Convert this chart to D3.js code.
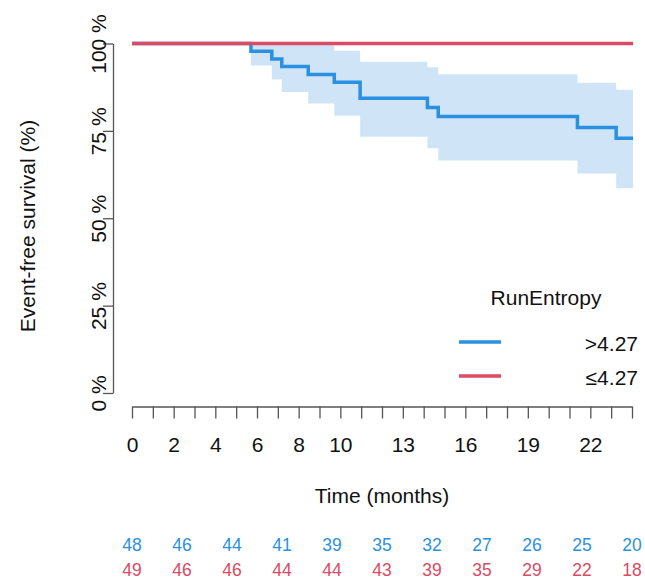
<!DOCTYPE html>
<html>
<head>
<meta charset="utf-8">
<script src="https://cdn.jsdelivr.net/npm/d3@7"></script>
<style>
  body { margin: 0; background: #fff; }
  svg { font-family: "Liberation Sans", Arial, sans-serif; }
</style>
</head>
<body>
<svg id="chart" width="645" height="579"></svg>
<script>
// Kaplan-Meier estimates
var timesHigh = [0, 5.71, 6.71, 7.19, 8.46, 9.71, 10.95, 14.18, 14.70, 21.38, 23.24, 24.05];
var survHigh  = [1, 0.978, 0.956, 0.934, 0.911, 0.889, 0.843, 0.817, 0.791, 0.760, 0.729, 0.729];
var lowerHigh = [1, 0.937, 0.897, 0.861, 0.828, 0.793, 0.733, 0.700, 0.665, 0.628, 0.586, 0.586];
var upperHigh = [1, 1, 1, 1, 1, 0.979, 0.948, 0.932, 0.912, 0.888, 0.868, 0.868];

var timesLow = [0, 24.05];
var survLow  = [1, 1];

// numbers at risk
var riskTimes = [0, 2.4, 4.8, 7.2, 9.6, 12, 14.4, 16.8, 19.2, 21.6, 24];
var riskHigh = [48, 46, 44, 41, 39, 35, 32, 27, 26, 25, 20];
var riskLow  = [49, 46, 46, 44, 44, 43, 39, 35, 29, 22, 18];

var xTickLabels = [0, 2, 4, 6, 8, 10, 13, 16, 19, 22];
var yTicks = [0, 0.25, 0.5, 0.75, 1];

var groups = [">4.27", "\u22644.27"];
var colBlue = "#2b90e0", colRed = "#dc4a63", colBand = "#cfe5f7";

var svg = d3.select("#chart");

var x = d3.scaleLinear().domain([0, 24]).range([132, 632]);
var y = d3.scaleLinear().domain([0, 1]).range([393, 43.5]);

// confidence band
var band = timesHigh.map((t, i) => ({t: t, lo: lowerHigh[i], hi: upperHigh[i]}));
svg.append("path")
	.datum(band)
	.attr("fill", colBand)
	.attr("d", d3.area()
		.curve(d3.curveStepAfter)
		.x(d => x(d.t))
		.y0(d => y(d.lo))
		.y1(d => y(d.hi)));

// survival curves
var line = d3.line().curve(d3.curveStepAfter).x(d => x(d[0])).y(d => y(d[1]));
svg.append("path")
	.datum(d3.zip(timesHigh, survHigh))
	.attr("fill", "none")
	.attr("stroke", colBlue)
	.attr("stroke-width", 3.5)
	.attr("d", line);
svg.append("path")
	.datum(d3.zip(timesLow, survLow))
	.attr("fill", "none")
	.attr("stroke", colRed)
	.attr("stroke-width", 3.5)
	.attr("d", line);

// y axis
var gy = svg.append("g")
	.attr("transform", "translate(113,0)")
	.call(d3.axisLeft(y).tickValues(yTicks).tickSize(10).tickSizeOuter(0)
		.tickFormat(d => Math.round(d * 100) + " %"));
gy.selectAll("text")
	.attr("transform", "rotate(-90)")
	.attr("x", 0)
	.attr("y", -7)
	.attr("dy", 0)
	.attr("text-anchor", "middle")
	.style("font-size", "21px")
	.attr("fill", "#111");

// x axis
var gx = svg.append("g")
	.attr("transform", "translate(0,406.5)")
	.call(d3.axisBottom(x).tickValues(d3.range(0, 25)).tickSize(12).tickSizeOuter(0)
		.tickFormat(d => xTickLabels.indexOf(d) >= 0 ? d : ""));
gx.selectAll("text")
	.attr("y", 45)
	.attr("dy", 0)
	.style("font-size", "21px")
	.attr("fill", "#111");

svg.selectAll(".domain, .tick line").attr("stroke", "#555").attr("stroke-width", 1.3);
svg.selectAll(".tick text").attr("font-family", "Liberation Sans, Arial, sans-serif");

// axis titles
svg.append("text")
	.attr("x", x(12))
	.attr("y", 503)
	.attr("text-anchor", "middle")
	.style("font-size", "21px")
	.attr("fill", "#111")
	.text("Time (months)");
svg.append("text")
	.attr("transform", "translate(35,226) rotate(-90)")
	.attr("text-anchor", "middle")
	.style("font-size", "21px")
	.attr("fill", "#111")
	.text("Event-free survival (%)");

// legend
svg.append("text")
	.attr("x", 546)
	.attr("y", 305)
	.attr("text-anchor", "middle")
	.style("font-size", "21px")
	.attr("fill", "#111")
	.text("RunEntropy");
var legend = svg.selectAll(".leg")
	.data(groups)
	.join("g")
	.attr("class", "leg")
	.attr("transform", (d, i) => "translate(0," + (342 + i * 34) + ")");
legend.append("line")
	.attr("x1", 459).attr("x2", 501)
	.attr("stroke", (d, i) => i == 0 ? colBlue : colRed)
	.attr("stroke-width", 3.5);
legend.append("text")
	.attr("x", 638)
	.attr("y", 9)
	.attr("text-anchor", "end")
	.style("font-size", "21px")
	.attr("fill", "#111")
	.text(d => d);

// risk table
[[riskHigh, colBlue, 551], [riskLow, colRed, 576]].forEach(function(r) {
	svg.append("g").selectAll("text")
		.data(r[0])
		.join("text")
		.attr("x", (d, i) => x(riskTimes[i]))
		.attr("y", r[2])
		.attr("text-anchor", "middle")
		.style("font-size", "17.5px")
		.attr("fill", r[1])
		.text(d => d);
});
</script>
</body>
</html>
